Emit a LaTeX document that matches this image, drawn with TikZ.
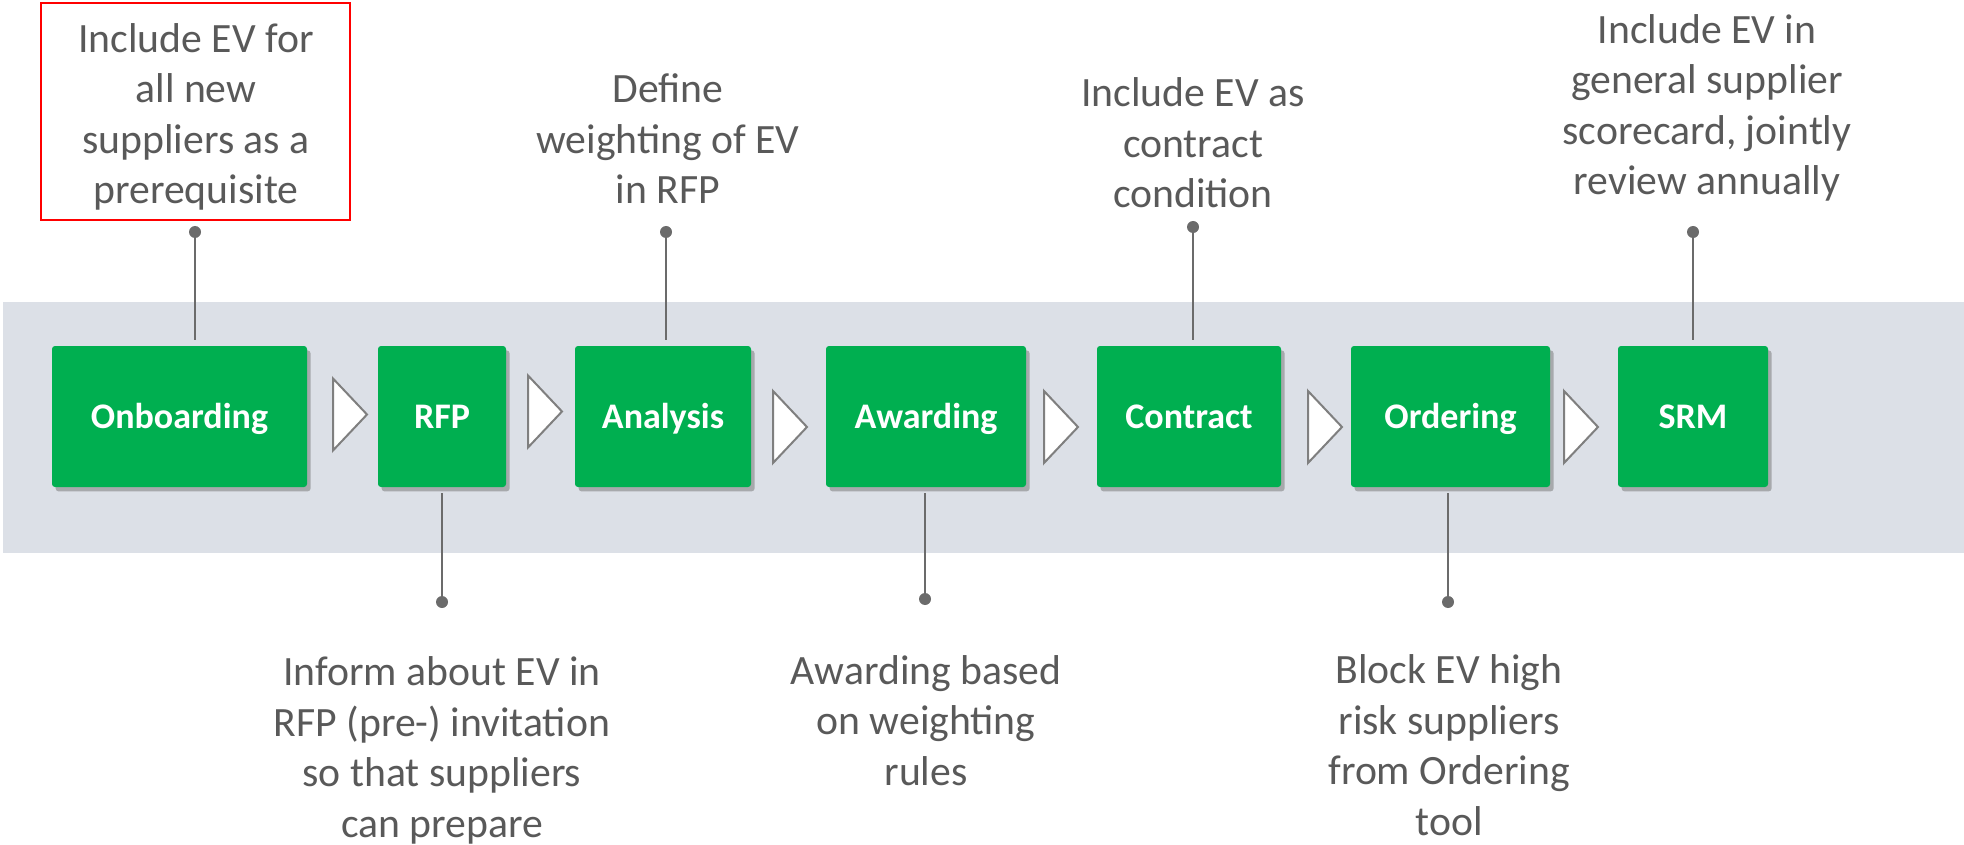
\documentclass[tikz,border=0pt]{standalone}
\usepackage{fontspec}
\setmainfont{Carlito}
\usetikzlibrary{shadows}

\definecolor{stagegreen}{HTML}{00AF50}
\definecolor{bandgray}{HTML}{DCE0E7}
\definecolor{notegray}{HTML}{595959}
\definecolor{pingray}{HTML}{6B6B6B}
\definecolor{chevgray}{HTML}{7F7F7F}

\begin{document}
\begin{tikzpicture}[
		x=0.5pt,y=-0.5pt,
		stage/.style={
			fill=stagegreen,rounded corners=1.5pt,minimum height=70.5pt,inner sep=0pt,
			text=white,font=\fontsize{18}{21}\selectfont\bfseries,
			text height=11.6pt,text depth=0pt,
			drop shadow={shadow xshift=1.8pt,shadow yshift=-2.2pt,fill=black!55,opacity=0.5},
		},
		note/.style={
			align=center,text=notegray,inner sep=0pt,anchor=base,
			font=\fontsize{20.85}{25.25}\selectfont,
		},
		pinhead/.style={
			circle,fill=pingray,inner sep=0pt,minimum size=6pt,
		},
		stem/.style={draw=pingray,line width=1.2pt,shorten >=3pt},
		chev/.style={draw=chevgray,fill=white,line width=1pt,line join=miter},
	]

	\useasboundingbox (0,0) rectangle (1964,845);

	% grey band behind the process
	\fill[bandgray] (3,302) rectangle (1964,553);

	% process stages
	\foreach \name/\x/\w/\txt in {onb/179.5/255/Onboarding,rfp/442/128/RFP,ana/663/176/Analysis,
		awd/926/200/Awarding,con/1189/184/Contract,ord/1450.5/199/Ordering,srm/1693/150/SRM}
	\node [stage,minimum width=\w*0.5pt] at (\x,416.5) (\name) {\txt};

	% chevrons between the stages
	\foreach \x/\y in {333/414.5,528/411.5,773/427,1044/427,1308/427,1564/427}
	\draw[chev] (\x,\y-36) -- ++(34,36) -- ++(-34,36) -- cycle;

	% notes above the band (placed at the baseline of their last line)
	\node[note] at (196,204) (n-onb) {Include EV for\\all new\\suppliers as a\\prerequisite};
	\node[note] at (668,204) (n-ana) {Define\\weighting of EV\\in RFP};
	\node[note] at (1193,208) (n-con) {Include EV as\\contract\\condition};
	\node[note] at (1707,195) (n-srm) {Include EV in\\general supplier\\scorecard, jointly\\review annually};

	% notes below the band
	\node[note] at (442,837) (n-rfp) {Inform about EV in\\RFP (pre-) invitation\\so that suppliers\\can prepare};
	\node[note] at (926,785) (n-awd) {Awarding based\\on weighting\\rules};
	\node[note] at (1449,835) (n-ord) {Block EV high\\risk suppliers\\from Ordering\\tool};

	% highlight frame
	\draw[red,line width=1pt] (41,3) rectangle (350,220);

	% pins to the stages
	\foreach \n/\x/\y in {onb/195/232,ana/666/232,con/1193/227,srm/1693/232}{
		\node[pinhead] at (\x,\y) (p-\n) {};
		\draw[stem] (p-\n) -- (p-\n |- \n.north);
	}
	\foreach \n/\x/\y in {rfp/442/602,awd/925/599,ord/1448/602}{
		\node[pinhead] at (\x,\y) (p-\n) {};
		\draw[stem] (p-\n) -- (p-\n |- \n.south);
	}

\end{tikzpicture}
\end{document}
